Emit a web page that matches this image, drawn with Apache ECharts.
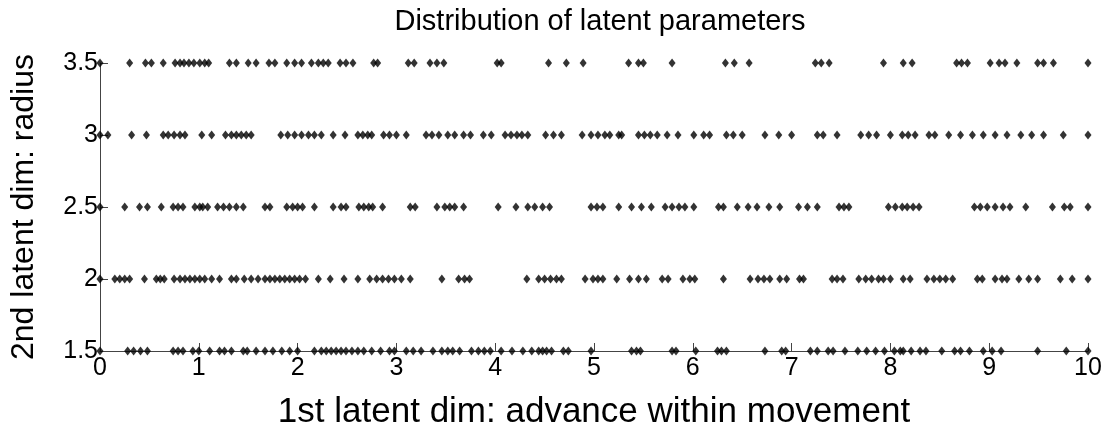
<!DOCTYPE html>
<html><head><meta charset="utf-8">
<script src="https://cdn.jsdelivr.net/npm/echarts@6/dist/echarts.min.js"></script>
<style>html,body{margin:0;padding:0;background:#fff}#c{width:1107px;height:437px}</style>
</head><body><div id="c"></div>
<script>
const title = "Distribution of latent parameters";
const xName = "1st latent dim: advance within movement";
const yName = "2nd latent dim: radius";
const yLevels = [1.5, 2, 2.5, 3, 3.5];

const row35 = [0,0.30,0.46,0.52,0.64,0.76,0.81,0.85,0.90,0.95,1.01,1.06,1.10,1.31,1.38,1.50,1.58,1.71,1.77,1.89,1.97,2.04,2.14,2.21,2.26,2.31,2.43,2.49,2.56,2.77,2.81,3.12,3.18,3.34,3.41,3.48,4.02,4.06,4.54,4.72,4.89,5.35,5.45,5.50,5.79,6.33,6.42,6.57,7.24,7.30,7.38,7.93,8.13,8.22,8.67,8.72,8.78,9.01,9.10,9.16,9.28,9.49,9.55,9.65,10];
const row30 = [0,0.08,0.32,0.47,0.64,0.69,0.75,0.81,0.86,1.03,1.13,1.27,1.33,1.38,1.43,1.48,1.53,1.83,1.90,1.97,2.04,2.11,2.17,2.24,2.36,2.48,2.61,2.66,2.71,2.75,2.87,2.93,3.00,3.10,3.30,3.36,3.43,3.52,3.59,3.68,3.75,3.88,3.96,4.10,4.16,4.22,4.27,4.33,4.51,4.59,4.67,4.88,4.97,5.04,5.11,5.16,5.25,5.28,5.45,5.51,5.57,5.64,5.74,5.85,6.01,6.11,6.17,6.34,6.41,6.50,6.73,6.87,7.00,7.26,7.32,7.46,7.70,7.78,7.86,8.00,8.12,8.18,8.25,8.39,8.45,8.59,8.71,8.83,8.94,9.06,9.18,9.32,9.43,9.55,9.75,10];
const row25 = [0,0.25,0.40,0.48,0.62,0.74,0.79,0.84,0.96,1.01,1.04,1.09,1.19,1.25,1.31,1.38,1.45,1.67,1.72,1.89,1.95,2.00,2.05,2.17,2.36,2.44,2.49,2.62,2.67,2.72,2.76,2.86,3.14,3.19,3.41,3.49,3.54,3.59,3.68,4.03,4.21,4.33,4.40,4.48,4.55,4.97,5.03,5.09,5.25,5.38,5.48,5.58,5.72,5.79,5.86,5.92,6.01,6.26,6.31,6.45,6.56,6.65,6.77,6.88,7.07,7.16,7.26,7.48,7.53,7.58,7.98,8.05,8.12,8.17,8.23,8.29,8.85,8.91,8.98,9.06,9.14,9.21,9.37,9.64,9.76,9.82,10];
const row20 = [0,0.15,0.20,0.25,0.30,0.45,0.57,0.61,0.65,0.75,0.81,0.86,0.91,0.96,1.01,1.06,1.13,1.21,1.33,1.38,1.46,1.53,1.60,1.67,1.72,1.77,1.82,1.87,1.92,1.97,2.02,2.08,2.21,2.33,2.47,2.61,2.73,2.80,2.86,2.92,2.98,3.05,3.14,3.46,3.63,3.69,3.74,4.32,4.44,4.50,4.56,4.62,4.67,4.91,4.99,5.04,5.09,5.23,5.36,5.45,5.53,5.69,5.75,5.90,5.97,6.02,6.31,6.58,6.66,6.72,6.78,6.88,6.95,7.08,7.12,7.41,7.46,7.52,7.68,7.75,7.81,7.88,7.93,8.00,8.13,8.20,8.37,8.44,8.50,8.56,8.63,8.88,8.93,9.06,9.13,9.18,9.30,9.40,9.49,9.72,9.84,10];
const row15 = [0,0.28,0.34,0.41,0.48,0.74,0.79,0.84,0.94,1.00,1.11,1.21,1.26,1.33,1.45,1.49,1.58,1.67,1.75,1.84,1.92,2.00,2.17,2.24,2.29,2.34,2.39,2.44,2.49,2.55,2.61,2.67,2.75,2.84,2.93,2.98,3.10,3.17,3.25,3.37,3.46,3.52,3.57,3.64,3.76,3.83,3.89,3.95,4.06,4.17,4.28,4.37,4.44,4.48,4.52,4.57,4.69,4.74,4.97,5.38,5.43,5.47,5.79,5.83,6.03,6.25,6.29,6.34,6.73,6.90,6.94,7.19,7.26,7.37,7.42,7.54,7.67,7.76,7.85,7.94,8.04,8.10,8.13,8.21,8.30,8.36,8.52,8.65,8.71,8.80,8.94,9.03,9.12,9.49,9.78,10];

const rows = [row15, row20, row25, row30, row35];
const data = [];
rows.forEach((r, i) => r.forEach(x => data.push([x, yLevels[i]])));

const chart = echarts.init(document.getElementById('c'), null, {renderer: 'canvas'});
const font = 'Liberation Sans, Arial, sans-serif';
const axisCommon = {
  axisLine: {show: true, onZero: false, lineStyle: {color: '#444', width: 1}},
  axisTick: {show: true, inside: true, length: 8, lineStyle: {color: '#444'}},
  splitLine: {show: false},
  axisLabel: {color: '#000', fontSize: 25, fontFamily: font}
};
chart.setOption({
  animation: false,
  backgroundColor: '#fff',
  title: {text: title, left: 595, top: 2, textAlign: 'center',
    textStyle: {fontSize: 29, fontWeight: 'normal', color: '#000', fontFamily: font}},
  grid: {left: 100, right: 19, top: 63, bottom: 86, containLabel: false},
  xAxis: Object.assign({}, axisCommon, {
    type: 'value', min: 0, max: 10, interval: 1,
    name: xName, nameLocation: 'middle', nameGap: 44,
    nameTextStyle: {color: '#000', fontSize: 35, fontFamily: font},
    axisLabel: Object.assign({}, axisCommon.axisLabel, {margin: 5})
  }),
  yAxis: Object.assign({}, axisCommon, {
    type: 'value', min: 1.5, max: 3.5, interval: 0.5,
    name: yName, nameLocation: 'middle', nameGap: 60,
    nameTextStyle: {color: '#000', fontSize: 32, fontFamily: font},
    axisLabel: Object.assign({}, axisCommon.axisLabel, {margin: 2})
  }),
  series: [{
    type: 'scatter', data: data, symbol: 'diamond', symbolSize: [7, 9],
    itemStyle: {color: '#000'}, clip: false
  }]
});
</script></body></html>
